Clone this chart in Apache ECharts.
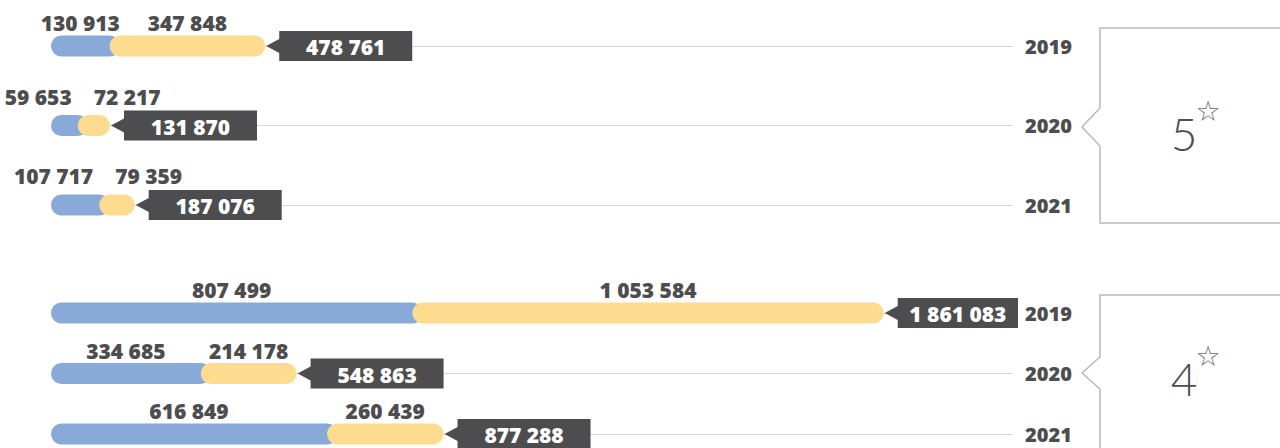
<!DOCTYPE html>
<html>
<head>
<meta charset="utf-8">
<script src="https://cdn.jsdelivr.net/npm/echarts@6/dist/echarts.min.js"></script>
<style>
  html, body { margin: 0; padding: 0; background: #ffffff; }
  #chart { width: 1280px; height: 448px; }
</style>
</head>
<body>
<div id="chart"></div>
<script>
// Years shown on each row
const years = ['2019', '2020', '2021'];

// Five-star hotels
const fiveBlue = [130913, 59653, 107717];
const fiveYellow = [347848, 72217, 79359];
const fiveTotal = [478761, 131870, 187076];

// Four-star hotels
const fourBlue = [807499, 334685, 616849];
const fourYellow = [1053584, 214178, 260439];
const fourTotal = [1861083, 548863, 877288];

// Group headings drawn in the bracketed boxes
const groupLabels = ['5', '4'];

const TEXT = '#4d4d4f';
const BLUE = '#89a9d8';
const YELLOW = '#fddc8f';
const GRID_LEFT = 51, GRID_RIGHT_X = 1013;
const WEIGHT = 800;
const LABEL_FONT = WEIGHT + ' 21px "Open Sans"';

const measureCtx = document.createElement('canvas').getContext('2d');
function textWidth(t, font) { measureCtx.font = font; return measureCtx.measureText(t).width; }
function fmt(n) { return String(n).replace(/\B(?=(\d{3})+(?!\d))/g, ' '); }

function rows(blue, yellow, total) {
  return years.map((y, i) => [y, blue[i], yellow[i], total[i]]);
}

function renderRow(params, api) {
  const b = api.value(1), yv = api.value(2), tot = api.value(3);
  const idx = api.value(0);
  const p0 = api.coord([0, idx]);
  const pb = api.coord([b, idx]);
  const pt = api.coord([b + yv, idx]);
  const cy = p0[1];
  const h = 21, r = 10.5;
  const children = [];

  // blue segment runs under the rounded start of the yellow one
  children.push({ type: 'rect', shape: { x: p0[0], y: cy - h / 2, width: pb[0] - p0[0] + r, height: h, r: r },
    style: { fill: BLUE } });
  children.push({ type: 'rect', shape: { x: pb[0], y: cy - h / 2, width: pt[0] - pb[0], height: h, r: r },
    style: { fill: YELLOW } });

  // value labels above the segments, pushed apart (and up) when they would collide
  const tb = fmt(b), ty = fmt(yv);
  const wb = textWidth(tb, LABEL_FONT), wy = textWidth(ty, LABEL_FONT);
  let xb = (p0[0] + pb[0]) / 2, xy = (pb[0] + pt[0]) / 2, ab = 'center', ay = 'center';
  let ly = cy - 23;
  if (xb + wb / 2 + 8 > xy - wy / 2) {
    xb = pb[0] - 6; ab = 'right'; xy = pb[0] + 16; ay = 'left'; ly = cy - 29;
  }
  const labelStyle = { fill: TEXT, fontSize: 21, fontWeight: WEIGHT, fontFamily: 'Open Sans', verticalAlign: 'middle' };
  children.push({ type: 'text', style: Object.assign({ text: tb, x: xb, y: ly, align: ab }, labelStyle) });
  children.push({ type: 'text', style: Object.assign({ text: ty, x: xy, y: ly, align: ay }, labelStyle) });

  // dark callout with the total
  const tip = pt[0] + 1, bx = tip + 13;
  const w = Math.min(133, GRID_RIGHT_X + 5 - bx);
  const bh = 15;
  children.push({ type: 'polygon', shape: { points: [[tip, cy], [bx, cy - 7], [bx, cy - bh], [bx + w, cy - bh],
    [bx + w, cy + bh], [bx, cy + bh], [bx, cy + 7]] }, style: { fill: '#4d4d4f' } });
  children.push({ type: 'text', style: { text: fmt(tot), x: bx + w / 2, y: cy + 1, align: 'center', verticalAlign: 'middle',
    fill: '#ffffff', fontSize: 21, fontWeight: WEIGHT, fontFamily: 'Open Sans' } });

  return { type: 'group', children: children };
}

function bracket(top, bottom, notchTop, notchTip, notchBottom) {
  return {
    type: 'polyline',
    shape: { points: [[1295, top], [1100, top], [1100, notchTop], [1082, notchTip], [1100, notchBottom],
      [1100, bottom], [1295, bottom]] },
    style: { stroke: '#b9b9bb', lineWidth: 1.5, fill: null }
  };
}

function heading(text, x, y) {
  return [
    { type: 'text', x: x, y: y, style: { text: text, fill: TEXT, fontSize: 46, fontWeight: 300,
      fontFamily: 'Lato', align: 'center', verticalAlign: 'middle' } },
    { type: 'text', x: x + 24, y: y - 22, style: { text: '☆', fill: '#6d6d6f', fontSize: 28,
      fontFamily: 'DejaVu Sans', align: 'center', verticalAlign: 'middle' } }
  ];
}

function yAxisFor(gridIndex) {
  return {
    type: 'category', gridIndex: gridIndex, data: years, inverse: true, boundaryGap: false,
    position: 'right',
    axisLine: { show: false }, axisTick: { show: false },
    axisLabel: { margin: 12, color: TEXT, fontSize: 20, fontWeight: WEIGHT, fontFamily: 'Open Sans' },
    splitLine: { show: true, lineStyle: { color: '#d6d6d6', width: 1 } }
  };
}

function xAxisFor(gridIndex) {
  return {
    type: 'value', gridIndex: gridIndex, min: 0, max: 2150000, show: false,
    splitLine: { show: false }
  };
}

const chart = echarts.init(document.getElementById('chart'), null, { renderer: 'svg' });
chart.setOption({
  animation: false,
  grid: [
    { left: GRID_LEFT, right: 1280 - GRID_RIGHT_X, top: 46, height: 159 },
    { left: GRID_LEFT, right: 1280 - GRID_RIGHT_X, top: 313, height: 121 }
  ],
  xAxis: [xAxisFor(0), xAxisFor(1)],
  yAxis: [yAxisFor(0), yAxisFor(1)],
  series: [
    { type: 'custom', xAxisIndex: 0, yAxisIndex: 0, encode: { x: [1, 2], y: 0 },
      data: rows(fiveBlue, fiveYellow, fiveTotal), renderItem: renderRow, clip: false },
    { type: 'custom', xAxisIndex: 1, yAxisIndex: 1, encode: { x: [1, 2], y: 0 },
      data: rows(fourBlue, fourYellow, fourTotal), renderItem: renderRow, clip: false }
  ],
  graphic: [
    bracket(28, 223, 108, 127, 146),
    bracket(295, 470, 357, 373, 389),
    ...heading(groupLabels[0], 1184, 133),
    ...heading(groupLabels[1], 1184, 378)
  ]
});
</script>
</body>
</html>
